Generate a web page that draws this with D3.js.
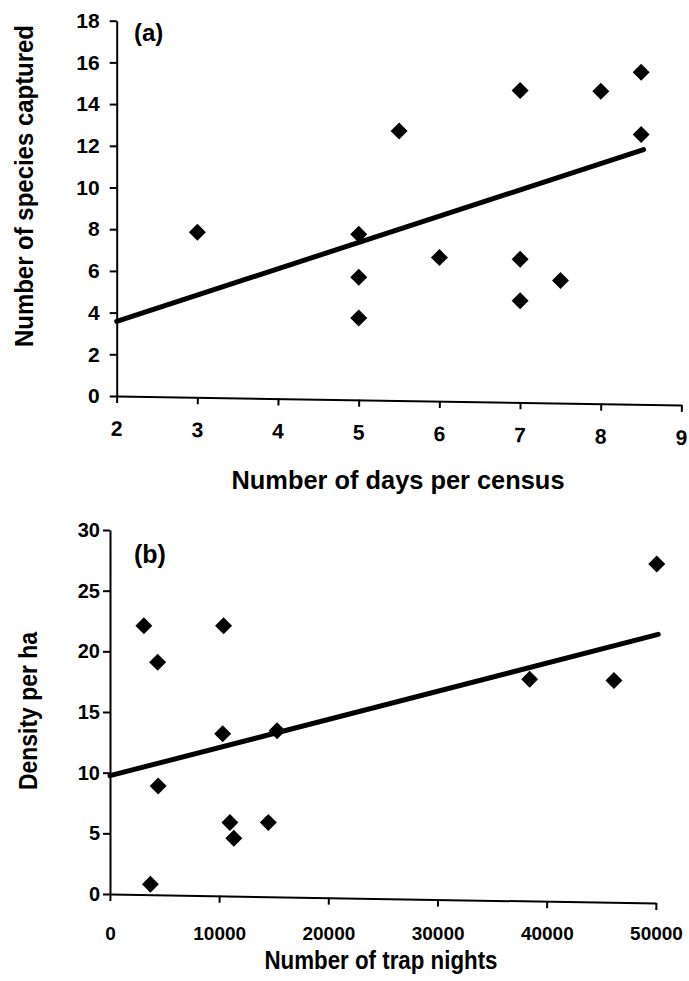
<!DOCTYPE html>
<html>
<head>
<meta charset="utf-8">
<script src="https://cdn.jsdelivr.net/npm/d3@7"></script>
<style>
    body { margin: 0; background: #fff; }
    svg { display: block; }
    .tick text { font-family: 'Liberation Sans', Arial, sans-serif; font-weight: bold; fill: #000; }
    .title { font-family: 'Liberation Sans Narrow', 'Arial Narrow', 'Liberation Sans', sans-serif; font-weight: bold; fill: #000; }
    .panel-tag { font-family: 'Liberation Sans', Arial, sans-serif; font-weight: bold; fill: #000; }
</style>
</head>
<body>
<svg id="chart" width="689" height="981"></svg>
<script>
// panel (a): days per census vs species captured
const daysPerCensus = [3, 5, 5, 5, 5.5, 6, 7, 7, 7, 7.5, 8, 8.5, 8.5]
const speciesCaptured = [7.85, 7.76, 5.7, 3.74, 12.71, 6.64, 14.65, 6.56, 4.57, 5.54, 14.62, 15.53, 12.54]
const trendA = [[2, 3.58], [8.53, 11.82]]
const ticksAx = [2, 3, 4, 5, 6, 7, 8, 9]
const ticksAy = [0, 2, 4, 6, 8, 10, 12, 14, 16, 18]

// panel (b): trap nights vs density
const trapNights = [3100, 10400, 4360, 10320, 15300, 38430, 46150, 50070, 4410, 10980, 14500, 11340, 3700]
const densityPerHa = [22.1, 22.1, 19.1, 13.2, 13.45, 17.7, 17.6, 27.2, 8.9, 5.9, 5.9, 4.6, 0.8]
const trendB = [[0, 9.75], [50200, 21.4]]
const ticksBx = [0, 10000, 20000, 30000, 40000, 50000]
const ticksBy = [0, 5, 10, 15, 20, 25, 30]

const svg = d3.select('#chart')
svg.append('rect').attr('width', 689).attr('height', 981).attr('fill', '#fff')

const diamond = d3.symbol(d3.symbolSquare, 144)
const fmt = d3.format('d')

function styleAxis(g) {
    g.selectAll('path, line').attr('stroke', '#000').attr('stroke-width', 2)
}

function drawPanel(p) {
    let g = svg.append('g')

    // y axis
    g.append('g')
        .attr('transform', `translate(${p.x.range()[0]},0)`)
        .call(d3.axisLeft(p.y).tickValues(p.yTicks).tickFormat(fmt).tickSize(7).tickSizeOuter(0).tickPadding(p.yPad))
        .call(styleAxis)
        .call(a => a.selectAll('text').attr('font-size', p.yFont))

    // x axis lines, slightly tilted like the scan
    let x0 = p.x.range()[0], y0 = p.y.range()[0]
    g.append('g')
        .attr('transform', `rotate(${p.tilt},${x0},${y0}) translate(0,${y0})`)
        .call(d3.axisBottom(p.x).tickValues(p.xTicks).tickSize(7).tickSizeOuter(0).tickFormat(''))
        .call(styleAxis)

    // x tick labels
    let lab = g.append('g')
        .attr('transform', p.tiltLabels ? `rotate(${p.tilt},${x0},${y0}) translate(0,${y0})` : `translate(0,${y0})`)
        .call(d3.axisBottom(p.x).tickValues(p.xTicks).tickFormat(fmt).tickSize(0).tickPadding(p.xPad))
    lab.select('.domain').remove()
    lab.selectAll('text').attr('font-size', p.xFont)

    // trend line
    g.append('path')
        .datum(p.trend)
        .attr('d', d3.line().x(d => p.x(d[0])).y(d => p.y(d[1])))
        .attr('fill', 'none')
        .attr('stroke', '#000')
        .attr('stroke-width', 5)
        .attr('stroke-linecap', 'round')

    // points
    g.append('g').selectAll('path')
        .data(d3.range(p.xs.length))
        .join('path')
        .attr('d', diamond)
        .attr('transform', i => `translate(${p.x(p.xs[i])},${p.y(p.ys[i])}) rotate(45)`)
        .attr('fill', '#000')

    // titles (condensed bold, squeezed to the scan's width)
    g.append('text').attr('class', 'title')
        .attr('transform', `translate(${p.yTitle[0]},${p.yTitle[1]}) rotate(-90)`)
        .attr('text-anchor', 'middle')
        .attr('font-size', p.titleFont)
        .attr('textLength', p.yTitle[2])
        .attr('lengthAdjust', 'spacingAndGlyphs')
        .text(p.yLabel)

    g.append('text').attr('class', 'title')
        .attr('x', p.xTitle[0]).attr('y', p.xTitle[1])
        .attr('text-anchor', 'middle')
        .attr('font-size', p.titleFont)
        .attr('textLength', p.xTitle[2])
        .attr('lengthAdjust', 'spacingAndGlyphs')
        .text(p.xLabel)

    g.append('text').attr('class', 'panel-tag')
        .attr('x', p.tag[0]).attr('y', p.tag[1])
        .attr('font-size', p.tagFont)
        .text(p.tagText)
}

drawPanel({
    x: d3.scaleLinear().domain([2, 9]).range([116.7, 681.5]),
    y: d3.scaleLinear().domain([0, 18]).range([396, 20.7]),
    xs: daysPerCensus, ys: speciesCaptured, trend: trendA,
    xTicks: ticksAx, yTicks: ticksAy,
    tilt: 0.9, tiltLabels: true,
    xPad: 25, yPad: 10, xFont: 21, yFont: 21,
    xLabel: 'Number of days per census', xTitle: [398, 489, 333],
    yLabel: 'Number of species captured', yTitle: [33, 186, 322],
    titleFont: 26,
    tagText: '(a)', tag: [134, 41], tagFont: 24
})

drawPanel({
    x: d3.scaleLinear().domain([0, 50000]).range([110, 656]),
    y: d3.scaleLinear().domain([0, 30]).range([894, 530]),
    xs: trapNights, ys: densityPerHa, trend: trendB,
    xTicks: ticksBx, yTicks: ticksBy,
    tilt: 0.95, tiltLabels: false,
    xPad: 33, yPad: 3, xFont: 19, yFont: 20,
    xLabel: 'Number of trap nights', xTitle: [381, 969, 233],
    yLabel: 'Density per ha', yTitle: [37, 711, 158],
    titleFont: 25,
    tagText: '(b)', tag: [134, 563], tagFont: 25
})
</script>
</body>
</html>
